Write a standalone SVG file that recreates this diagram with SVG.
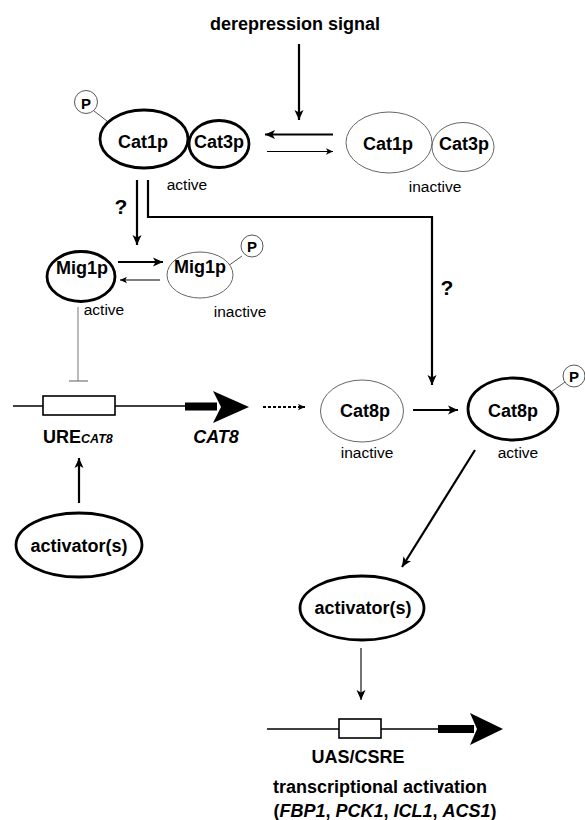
<svg xmlns="http://www.w3.org/2000/svg" width="585" height="820" viewBox="0 0 585 820">
<style>
text{font-family:"Liberation Sans",Arial,sans-serif;fill:#000}
.b{font-weight:bold;font-size:18px;text-anchor:middle}
.s{font-size:15.5px;text-anchor:middle}
.q{font-weight:bold;font-size:21px;text-anchor:middle}
.thick{fill:#fff;stroke:#000;stroke-width:2.8}
.thin{fill:#fff;stroke:#555;stroke-width:0.9}
.pc{fill:#fff;stroke:#444;stroke-width:0.9}
.ln{fill:none;stroke:#000;stroke-width:2.2}
.lt{fill:none;stroke:#000;stroke-width:1.1}
</style>
<defs>
<marker id="ah" viewBox="0 0 10 10" refX="10" refY="5" markerWidth="11" markerHeight="10" markerUnits="userSpaceOnUse" orient="auto"><path d="M0,0.5 L10,5 L0,9.5 L2.5,5 z" fill="#000"/></marker>
<marker id="ahs" viewBox="0 0 10 10" refX="10" refY="5" markerWidth="9" markerHeight="7" markerUnits="userSpaceOnUse" orient="auto"><path d="M0,0.5 L10,5 L0,9.5 L2.5,5 z" fill="#000"/></marker>
</defs>

<g id="title"><text class="b" x="295" y="30">derepression signal</text></g>

<g id="cat1p-cat3p-active">
<line x1="94" y1="111" x2="107" y2="121" stroke="#444" stroke-width="0.9"/>
<circle class="pc" cx="86" cy="102" r="11.5"/>
<text x="86" y="108.5" style="font-weight:bold;font-size:15px;text-anchor:middle">P</text>
<ellipse class="thick" cx="219" cy="144" rx="30" ry="23.5"/>
<ellipse class="thick" cx="144" cy="139" rx="44" ry="29"/>
<text class="b" x="143" y="148">Cat1p</text>
<text class="b" x="219" y="148">Cat3p</text>
<text class="s" x="187" y="190">active</text>
</g>

<g id="cat1p-cat3p-inactive">
<ellipse class="thin" cx="463" cy="147" rx="31" ry="24.5"/>
<ellipse class="thin" cx="389" cy="142.5" rx="43" ry="30.5"/>
<text class="b" x="388" y="150">Cat1p</text>
<text class="b" x="464" y="150">Cat3p</text>
<text class="s" x="435" y="192">inactive</text>
</g>

<g id="mig1p-active">
<ellipse class="thick" cx="81" cy="276.5" rx="34" ry="25"/>
<text class="b" x="82" y="274">Mig1p</text>
<text class="s" x="104" y="315">active</text>
</g>

<g id="mig1p-inactive">
<line x1="242" y1="256" x2="228" y2="266" stroke="#444" stroke-width="0.9"/>
<ellipse class="thin" cx="200" cy="275" rx="33" ry="23"/>
<circle class="pc" cx="252" cy="246" r="11"/>
<text x="252" y="252" style="font-weight:bold;font-size:15px;text-anchor:middle">P</text>
<text class="b" x="200" y="273">Mig1p</text>
<text class="s" x="240" y="317">inactive</text>
</g>

<g id="ure-cat8-gene">
<line x1="13" y1="406" x2="188" y2="406" stroke="#000" stroke-width="1.6"/>
<rect x="43" y="396" width="72" height="19" fill="#fff" stroke="#000" stroke-width="1.6"/>
<rect x="185" y="402.5" width="32" height="8" fill="#000"/>
<polygon points="213,391 249,407 213,423 221,407" fill="#000"/>
<text x="43" y="443" style="font-weight:bold;font-size:18px">URE<tspan style="font-size:12.5px;font-style:italic">CAT8</tspan></text>
<text x="216" y="443" style="font-weight:bold;font-style:italic;font-size:18px;text-anchor:middle">CAT8</text>
</g>

<g id="activator-left">
<ellipse class="thick" cx="79" cy="545" rx="63" ry="32"/>
<text class="b" x="79" y="552">activator(s)</text>
</g>

<g id="cat8p-inactive">
<ellipse class="thin" cx="362" cy="411" rx="41.5" ry="31"/>
<text class="b" x="365" y="417">Cat8p</text>
<text class="s" x="367" y="458">inactive</text>
</g>

<g id="cat8p-active">
<line x1="565" y1="382" x2="551" y2="392" stroke="#444" stroke-width="0.9"/>
<ellipse class="thick" cx="513" cy="409" rx="45" ry="31"/>
<circle class="pc" cx="574" cy="376" r="11"/>
<text x="574" y="382" style="font-weight:bold;font-size:15px;text-anchor:middle">P</text>
<text class="b" x="513" y="417">Cat8p</text>
<text class="s" x="518" y="458">active</text>
</g>

<g id="activator-right">
<ellipse class="thick" cx="362" cy="608" rx="62" ry="32"/>
<text class="b" x="363" y="614">activator(s)</text>
</g>

<g id="uas-gene">
<line x1="267" y1="729" x2="445" y2="729" stroke="#000" stroke-width="1.6"/>
<rect x="339" y="719" width="42" height="19" fill="#fff" stroke="#000" stroke-width="1.6"/>
<rect x="438" y="725" width="36" height="8" fill="#000"/>
<polygon points="470,713 503,729 470,745 477,729" fill="#000"/>
<text class="b" x="358" y="763">UAS/CSRE</text>
<text class="b" x="380" y="793">transcriptional activation</text>
<text class="b" x="385" y="817">(<tspan font-style="italic">FBP1</tspan>, <tspan font-style="italic">PCK1</tspan>, <tspan font-style="italic">ICL1</tspan>, <tspan font-style="italic">ACS1</tspan>)</text>
</g>

<g id="connectors">
<line class="ln" x1="299" y1="44" x2="299" y2="120" marker-end="url(#ah)"/>
<line class="ln" x1="333" y1="134.5" x2="265" y2="134.5" stroke-width="2.6" marker-end="url(#ah)"/>
<line class="lt" x1="267" y1="151.5" x2="333" y2="151.5" marker-end="url(#ahs)"/>
<line class="ln" x1="137" y1="180" x2="137" y2="245" marker-end="url(#ah)"/>
<polyline class="ln" points="148,180 148,217 432,217 432,385" marker-end="url(#ah)"/>
<text class="q" x="121" y="214">?</text>
<text class="q" x="447" y="295">?</text>
<line class="ln" x1="118" y1="262" x2="163" y2="262" marker-end="url(#ah)"/>
<line class="lt" x1="160" y1="280" x2="120" y2="280" marker-end="url(#ahs)"/>
<line x1="78" y1="307" x2="78" y2="381" stroke="#777" stroke-width="1"/>
<line x1="69" y1="381" x2="88" y2="381" stroke="#777" stroke-width="1.2"/>
<line x1="263" y1="407" x2="305" y2="407" stroke="#000" stroke-width="1.8" stroke-dasharray="3,2" marker-end="url(#ahs)"/>
<line class="ln" x1="413" y1="410" x2="458" y2="410" marker-end="url(#ah)"/>
<line class="ln" x1="79" y1="503" x2="79" y2="458" marker-end="url(#ah)"/>
<line class="ln" x1="475" y1="450" x2="402" y2="567" marker-end="url(#ah)"/>
<line class="lt" x1="361" y1="648" x2="361" y2="700" stroke-width="1.5" marker-end="url(#ah)"/>
</g>
</svg>
